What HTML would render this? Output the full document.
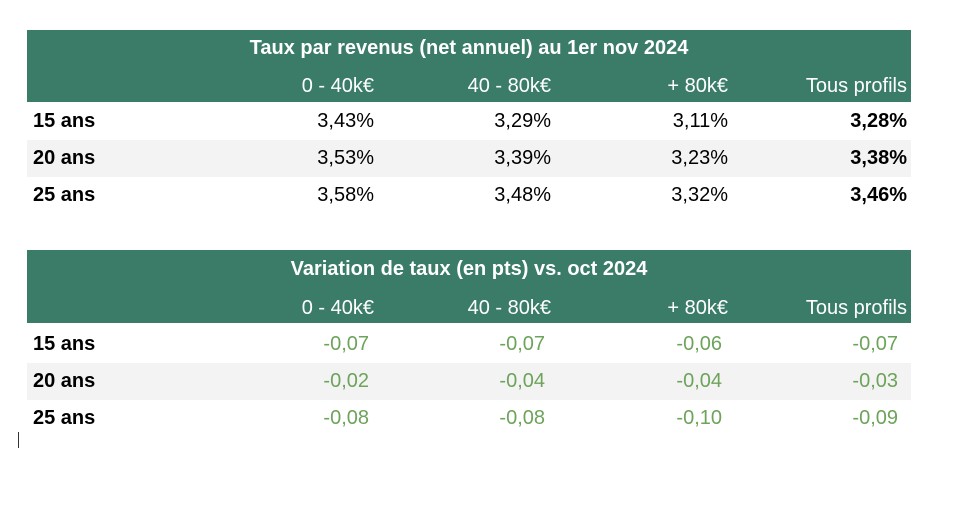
<!DOCTYPE html>
<html><head><meta charset="utf-8"><style>
body{margin:0;width:960px;height:505px;background:#fff;position:relative;overflow:hidden;font-family:"Liberation Sans",sans-serif;}
.t{position:absolute;left:27px;width:884px;}
.hd{position:absolute;left:0;width:884px;background:#3a7c67;}
.row{position:absolute;left:0;width:884px;height:37px;}
.c{position:absolute;font-size:20px;line-height:37px;white-space:nowrap;}
.r{text-align:right;}
.title{position:absolute;left:0;width:884px;text-align:center;color:#fff;font-weight:bold;font-size:20px;line-height:36px;}
.h{color:#fff;}
.g{color:#6da35a;}
</style></head><body>
<div class="t" style="top:30px;height:183px;">
 <div class="hd" style="top:0;height:72px;"></div>
 <div class="title" style="top:0;">Taux par revenus (net annuel) au 1er nov 2024</div>
 <div id="h1"></div>
 <div id="b1"></div>
</div>
<div class="t" style="top:250px;height:185px;">
 <div class="hd" style="top:0;height:73px;"></div>
 <div class="title" style="top:1px;">Variation de taux (en pts) vs. oct 2024</div>
 <div id="h2"></div>
 <div id="b2"></div>
</div>
<div style="position:absolute;left:18px;top:432px;width:1px;height:16px;background:#333;"></div>
<script>
const columns=["0 - 40k€","40 - 80k€","+ 80k€","Tous profils"];
const rowsLabels=["15 ans","20 ans","25 ans"];
const rates=[["3,43%","3,29%","3,11%","3,28%"],["3,53%","3,39%","3,23%","3,38%"],["3,58%","3,48%","3,32%","3,46%"]];
const variations=[["-0,07","-0,07","-0,06","-0,07"],["-0,02","-0,04","-0,04","-0,03"],["-0,08","-0,08","-0,10","-0,09"]];
const colRight=[347,524,701,880];
const varRight=[342,518,695,871];
function cell(parent,text,right,top,cls,bold){
 const d=document.createElement('div');
 d.className='c r '+cls;
 d.style.right=(884-right)+'px';d.style.top=top+'px';
 if(bold)d.style.fontWeight='bold';
 d.textContent=text;
 
 
 parent.appendChild(d);
}
function build(hId,bId,data,rights,cls,boldLast,hTop,bTop){
 const h=document.getElementById(hId),b=document.getElementById(bId);
 columns.forEach((c,i)=>cell(h,c,colRight[i],hTop,'h',false));
 data.forEach((row,r)=>{
  const rw=document.createElement('div');
  rw.className='row';rw.style.top=(bTop+r*37)+'px';
  rw.style.background=r%2?'#f3f3f3':'#fff';
  
  
  b.appendChild(rw);
  const l=document.createElement('div');
  l.className='c';l.style.left='6px';l.style.top=(bTop+r*37)+'px';l.style.fontWeight='bold';
  l.textContent=rowsLabels[r];
  
  
  b.appendChild(l);
  row.forEach((v,i)=>cell(b,v,rights[i],bTop+r*37,cls,boldLast&&i==3));
 });
}
build('h1','b1',rates,colRight,'',true,38,73);
build('h2','b2',variations,varRight,'g',false,40,76);
</script>
</body></html>
